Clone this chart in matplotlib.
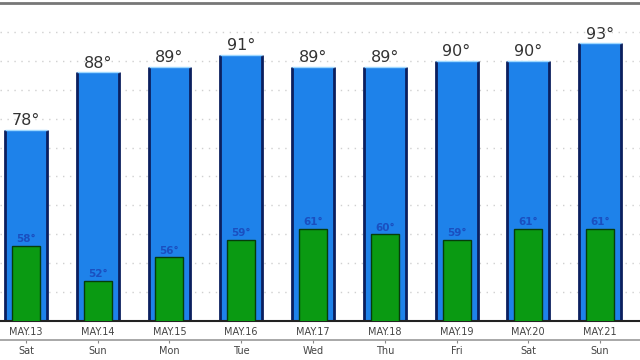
import numpy as np
import matplotlib.pyplot as plt

dates = ['MAY.13', 'MAY.14', 'MAY.15', 'MAY.16', 'MAY.17', 'MAY.18', 'MAY.19', 'MAY.20', 'MAY.21']
days = ['Sat', 'Sun', 'Mon', 'Tue', 'Wed', 'Thu', 'Fri', 'Sat', 'Sun']
highs = [78, 88, 89, 91, 89, 89, 90, 90, 93]
lows = [58, 52, 56, 59, 61, 60, 59, 61, 61]

x = np.arange(len(dates))
bw = 0.585
gw = 0.39

fig = plt.figure(figsize=(6.4, 3.6), dpi=100)
ax = fig.add_axes([0, 0.108, 1, 0.884])

# blue high bars, dark sides and a light top edge
ax.bar(x, highs, width=bw, color='#1e82ea', linewidth=0, zorder=2)
ax.vlines(x - bw / 2, 0, highs, color='#0b1f5e', linewidth=2, zorder=2.5)
ax.vlines(x + bw / 2, 0, highs, color='#0b1f5e', linewidth=2, zorder=2.5)
ax.hlines(highs, x - bw / 2, x + bw / 2, color='#9fd8ff', linewidth=1, zorder=2.5)

ax.bar(x, lows, width=gw, color='#0a9a12', edgecolor='#063d0a', linewidth=1.0, zorder=3)

for i in x:
    ax.text(i, highs[i] + 0.3, '%d°' % highs[i], ha='center', va='bottom', fontsize=11.5, color='#333333', zorder=4)
    ax.text(i, lows[i] + 0.3, '%d°' % lows[i], ha='center', va='bottom', fontsize=7.5, color='#1a4fc0', fontweight='bold', zorder=4)

ax.set_ylim(45, 100)
ax.set_xlim(-0.362, 8.557)
ax.set_yticks(np.arange(50, 100, 5))
ax.yaxis.grid(True, linestyle=(0, (1, 4)), color='#d0d0d0', linewidth=1)
ax.set_axisbelow(True)
ax.tick_params(axis='y', left=False, labelleft=False)

ax.set_xticks(x)
ax.set_xticklabels(dates, fontsize=7, color='#444444')
ax.tick_params(axis='x', length=0, pad=4)

for s in ['left', 'right']:
    ax.spines[s].set_visible(False)
ax.spines['bottom'].set_color('#222222')
ax.spines['bottom'].set_linewidth(1.5)
ax.spines['top'].set_color('#777777')
ax.spines['top'].set_linewidth(2)

sec = ax.secondary_xaxis(-0.06)
sec.set_xticks(x)
sec.set_xticklabels(days, fontsize=7, color='#444444')
sec.tick_params(axis='x', length=2, color='#888888', pad=2)
sec.spines['bottom'].set_color('#999999')
sec.spines['bottom'].set_linewidth(1.2)

fig.savefig('out.png', dpi=100)
